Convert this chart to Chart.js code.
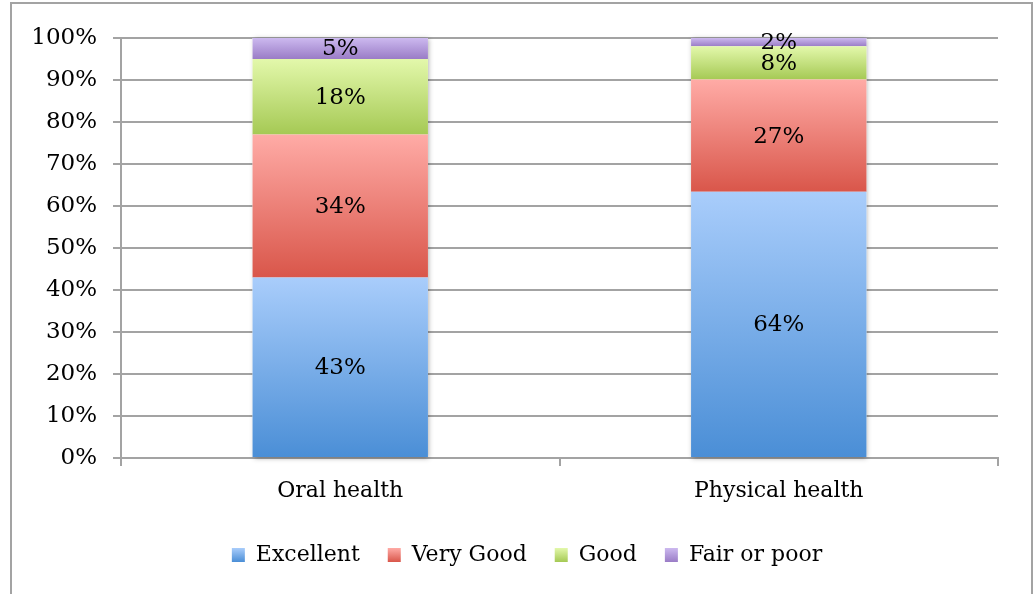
<!DOCTYPE html>
<html>
<head>
<meta charset="utf-8">
<script src="https://cdn.jsdelivr.net/npm/chart.js@4.4.1/dist/chart.umd.min.js"></script>
<style>
    html, body { margin: 0; padding: 0; background: #fff; }
    #wrap { width: 1035px; height: 594px; position: relative; }
</style>
</head>
<body>
<div id="wrap"><canvas id="healthChart" width="1035" height="594"></canvas></div>
<script>
const categorias = ['Oral health', 'Physical health'];
const series = ['Excellent', 'Very Good', 'Good', 'Fair or poor'];
// labelled percentages (physical health sums to 101)
const excelente = [43, 64];
const muyBueno = [34, 27];
const bueno = [18, 8];
const regular = [5, 2];
const yTicks = [0, 10, 20, 30, 40, 50, 60, 70, 80, 90, 100];

const valores = [excelente, muyBueno, bueno, regular];
const totales = categorias.map((c, i) => valores.reduce((s, arr) => s + arr[i], 0));

// light (top) -> dark (bottom)
const gradientes = [
    ['#a9cdfb', '#4a8ed6'],
    ['#ffaba6', '#d9564a'],
    ['#e3f8ab', '#a5c954'],
    ['#ccb9ef', '#9a7cc6']
];
const fuente = 'DejaVu Serif';

function colorSegmento(ctx, s) {
    const chart = ctx.chart;
    const i = ctx.dataIndex;
    if (!chart.chartArea || i === undefined || !chart.scales.y) {
        return gradientes[s][1];
    }
    const y = chart.scales.y;
    let abajo = 0;
    for (let k = 0; k < s; k++) abajo += valores[k][i] / totales[i] * 100;
    const arriba = abajo + valores[s][i] / totales[i] * 100;
    const g = chart.ctx.createLinearGradient(0, y.getPixelForValue(arriba), 0, y.getPixelForValue(abajo));
    g.addColorStop(0, gradientes[s][0]);
    g.addColorStop(1, gradientes[s][1]);
    return g;
}

const marcoPlugin = {
    id: 'marco',
    beforeDraw(chart) {
        const c = chart.ctx;
        c.save();
        c.strokeStyle = '#a3a3a3';
        c.lineWidth = 2;
        c.strokeRect(11, 3, chart.width - 14, chart.height + 10);
        c.restore();
    }
};

// the legend sits a bit right of centre in the original
const moverLeyendaPlugin = {
    id: 'moverLeyenda',
    afterLayout(chart) {
        const leg = chart.legend;
        if (!leg) return;
        leg.left += 28;
        leg.right += 28;
    }
};

const sombraPlugin = {
    id: 'sombra',
    beforeDatasetsDraw(chart) {
        const primero = chart.getDatasetMeta(0).data;
        const ultimo = chart.getDatasetMeta(series.length - 1).data;
        const c = chart.ctx;
        c.save();
        c.shadowColor = 'rgba(0,0,0,0.35)';
        c.shadowBlur = 5;
        c.shadowOffsetX = 1;
        c.shadowOffsetY = 1;
        c.fillStyle = '#fff';
        primero.forEach((bar, i) => {
            const top = ultimo[i].y;
            const w = bar.width;
            c.fillRect(bar.x - w / 2, top, w, bar.base - top);
        });
        c.restore();
    }
};

const etiquetasPlugin = {
    id: 'etiquetas',
    afterDatasetsDraw(chart) {
        const c = chart.ctx;
        c.save();
        c.font = '23px "' + fuente + '"';
        c.fillStyle = '#000';
        c.textAlign = 'center';
        c.textBaseline = 'middle';
        chart.data.datasets.forEach((ds, s) => {
            chart.getDatasetMeta(s).data.forEach((bar, i) => {
                c.fillText(valores[s][i] + '%', bar.x, (bar.y + bar.base) / 2 + 1);
            });
        });
        c.restore();
    }
};

// legend boxes with the same light-to-dark gradient as the bars
const cajasLeyendaPlugin = {
    id: 'cajasLeyenda',
    afterDraw(chart) {
        const leg = chart.legend;
        if (!leg || !leg.legendHitBoxes) return;
        const bw = leg.options.labels.boxWidth;
        const bh = leg.options.labels.boxHeight;
        const c = chart.ctx;
        c.save();
        leg.legendHitBoxes.forEach((hb, s) => {
            const top = hb.top + (hb.height - bh) / 2;
            const g = c.createLinearGradient(0, top, 0, top + bh);
            g.addColorStop(0, gradientes[s][0]);
            g.addColorStop(1, gradientes[s][1]);
            c.fillStyle = '#fff';
            c.fillRect(hb.left - 1, top - 1, bw + 2, bh + 2);
            c.fillStyle = g;
            c.fillRect(hb.left, top, bw, bh);
        });
        c.restore();
    }
};

const config = {
    type: 'bar',
    data: {
        labels: categorias,
        datasets: series.map((nombre, s) => ({
            label: nombre,
            data: valores[s].map((v, i) => v / totales[i] * 100),
            backgroundColor: (ctx) => colorSegmento(ctx, s),
            borderWidth: 0,
            barPercentage: 0.8,
            categoryPercentage: 0.5
        }))
    },
    options: {
        responsive: false,
        animation: false,
        layout: { padding: { top: 38, right: 37, left: 0, bottom: 18 } },
        scales: {
            x: {
                stacked: true,
                offset: true,
                grid: { drawOnChartArea: false, drawTicks: true, tickLength: 8, color: '#a3a3a3', lineWidth: 2, offset: true },
                border: { color: '#a3a3a3', width: 2 },
                ticks: { color: '#000', font: { family: fuente, size: 22 }, padding: 12 },
                afterFit(scale) { scale.height = 58; }
            },
            y: {
                stacked: true,
                min: 0,
                max: 100,
                afterBuildTicks(scale) { scale.ticks = yTicks.map(v => ({ value: v })); },
                grid: { color: '#a3a3a3', lineWidth: 2, tickLength: 8 },
                border: { color: '#a3a3a3', width: 2 },
                ticks: {
                    color: '#000',
                    font: { family: fuente, size: 23 },
                    padding: 16,
                    callback: (v) => v + '%'
                },
                afterFit(scale) { scale.width = 121; }
            }
        },
        plugins: {
            legend: {
                position: 'bottom',
                labels: {
                    color: '#000',
                    font: { family: fuente, size: 22 },
                    boxWidth: 13,
                    boxHeight: 14,
                    padding: 28
                }
            },
            tooltip: { enabled: false }
        }
    },
    plugins: [marcoPlugin, moverLeyendaPlugin, sombraPlugin, etiquetasPlugin, cajasLeyendaPlugin]
};

var healthChart = new Chart(document.getElementById('healthChart'), config);
</script>
</body>
</html>
